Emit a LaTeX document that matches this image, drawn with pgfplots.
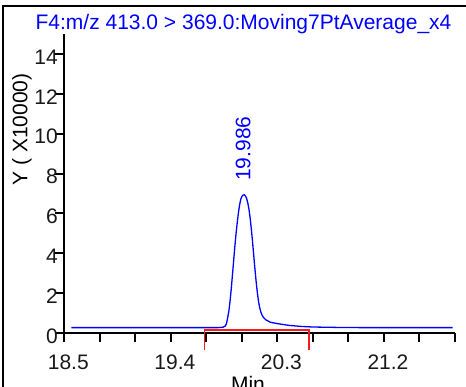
\documentclass[border=0pt]{standalone}
\usepackage{fontspec}
\setmainfont{Liberation Sans}
\usepackage{pgfplots}
\pgfplotsset{compat=1.18}
\begin{document}
\begin{tikzpicture}[font=\fontsize{21pt}{25pt}\selectfont]
\useasboundingbox (0,0) rectangle (466pt,387pt);
\draw[line width=2pt] (3pt,-10pt) -- (3pt,381pt) -- (480pt,381pt);
\begin{axis}[
  at={(64.3pt,54pt)}, anchor=south west,
  scale only axis, width=390.7pt, height=299pt,
  xmin=18.5, xmax=21.8, ymin=0, ymax=15,
  axis x line*=bottom, axis y line*=left,
  axis line style={line width=2pt,-},
  clip=false,
  xtick={18.5,18.8,19.1,19.4,19.7,20.0,20.3,20.6,20.9,21.2,21.5,21.8},
  xticklabels={18.5,,,19.4,,,20.3,,,21.2,,},
  ytick={0,2,4,6,8,10,12,14},
  yticklabels={0,2,4,6,8,10,12,14},
  tick align=outside,
  major tick length=9pt,
  tick style={line width=2pt, black},
  xticklabel style={anchor=north, xshift=4pt, yshift=-9pt},
  yticklabel style={anchor=east, xshift=6pt, yshift=-3pt},
  ticklabel style={font=\fontsize{21pt}{25pt}\selectfont, text=black!90},
]
\addplot[blue, line width=1.3pt] coordinates {
(18.56,0.27) (18.8,0.27) (19.2,0.27) (19.6,0.27) (19.80,0.27) (19.84,0.29)
(19.86,0.35) (19.87,0.47) (19.88,0.77) (19.89,1.1) (19.90,1.6) (19.91,2.2) (19.92,2.9)
(19.93,3.6) (19.94,4.3) (19.95,4.95) (19.96,5.5) (19.97,6.0) (19.98,6.4) (19.99,6.7)
(20.00,6.85) (20.01,6.92) (20.02,6.93) (20.03,6.88) (20.04,6.75) (20.05,6.52) (20.06,6.2)
(20.07,5.75) (20.08,5.2) (20.09,4.58) (20.10,3.9) (20.11,3.22) (20.12,2.6) (20.13,2.05)
(20.14,1.6) (20.15,1.28) (20.16,1.05) (20.17,0.9) (20.18,0.8) (20.20,0.67) (20.24,0.54)
(20.30,0.47) (20.40,0.38) (20.50,0.33) (20.60,0.30) (20.80,0.28) (21.00,0.27) (21.40,0.27) (21.78,0.27)
};
\addplot[red!90, line width=1.1pt] coordinates {(19.682,-0.85) (19.682,0.15) (20.567,0.15) (20.567,-0.85)};
\node[rotate=90, text=blue] at (axis cs:20.01,9.25) {19.986};
\end{axis}
\node[anchor=base, text=blue] at (243.5pt,357pt) {F4:m/z 413.0 > 369.0:Moving7PtAverage\_x4};
\node[rotate=90] at (22pt,257.5pt) {Y ( X10000)};
\node[anchor=base] at (248pt,-5pt) {Min};
\end{tikzpicture}
\end{document}
